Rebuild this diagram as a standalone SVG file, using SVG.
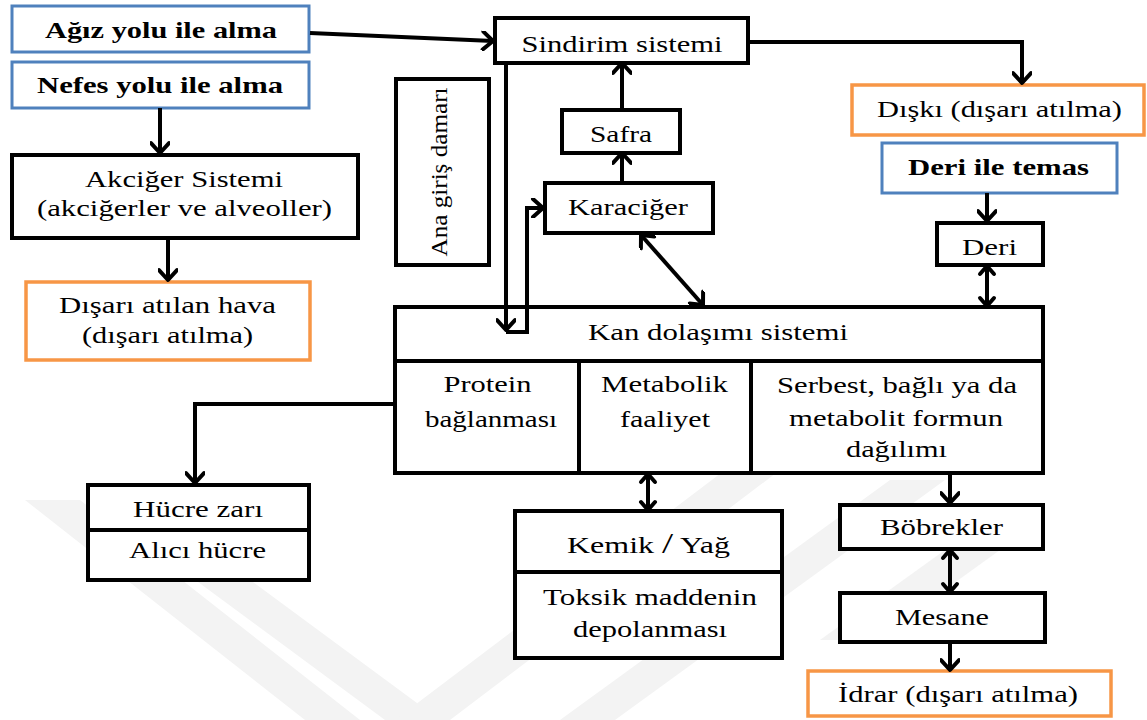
<svg xmlns="http://www.w3.org/2000/svg" width="1147" height="720" viewBox="0 0 1147 720" font-family="'Liberation Serif', 'DejaVu Serif', serif">
<style>
  text{font-family:'Liberation Serif','DejaVu Serif',serif}
  .t{font-size:24px;fill:#000;text-anchor:middle}
  .b{font-weight:bold}
  .box{fill:#fff;stroke:#000;stroke-width:4}
  .blue{fill:#fff;stroke:#4F81BD;stroke-width:3}
  .org{fill:#fff;stroke:#F79646;stroke-width:3.5}
  .div{stroke:#000;stroke-width:4;fill:none}
  .c{fill:none;stroke:#000;stroke-width:4}
  .wm{fill:#f3f3f3}
</style>
<defs>
  <marker id="ah" viewBox="0 0 20 20" refX="17" refY="10" markerWidth="20" markerHeight="20" markerUnits="userSpaceOnUse" orient="auto-start-reverse">
    <path d="M7,1 L17,10 L7,19" fill="none" stroke="#000" stroke-width="4" stroke-linecap="round" stroke-linejoin="round"/>
  </marker>
  <marker id="ahs" viewBox="0 0 20 20" refX="17" refY="10" markerWidth="20" markerHeight="20" markerUnits="userSpaceOnUse" orient="auto-start-reverse">
    <path d="M9,3 L17,10 L9,17" fill="none" stroke="#000" stroke-width="4" stroke-linecap="round" stroke-linejoin="round"/>
  </marker>
</defs>
<rect width="1147" height="720" fill="#fff"/>
<g id="watermark">
  <polygon class="wm" points="25,500 80,500 360,720 305,720"/>
  <polygon class="wm" points="175,565 230,565 440,720 385,720"/>
  <polygon class="wm" points="395,720 450,720 780,470 725,470"/>
  <polygon class="wm" points="560,720 615,720 945,480 890,480"/>
  <polygon class="wm" points="820,640 875,640 1000,550 945,550"/>
</g>
<g id="agiz">
  <rect class="blue" x="12" y="6" width="297" height="46"/>
  <text class="t b" x="161" y="38" textLength="232" lengthAdjust="spacingAndGlyphs">Ağız yolu ile alma</text>
</g>
<g id="nefes">
  <rect class="blue" x="12" y="62" width="297" height="46"/>
  <text class="t b" x="160" y="93" textLength="246" lengthAdjust="spacingAndGlyphs">Nefes yolu ile alma</text>
</g>
<g id="akciger">
  <rect class="box" x="12" y="155" width="346" height="83"/>
  <text class="t" x="184" y="187" textLength="198" lengthAdjust="spacingAndGlyphs">Akciğer Sistemi</text>
  <text class="t" x="184.5" y="216" textLength="295" lengthAdjust="spacingAndGlyphs">(akciğerler ve alveoller)</text>
</g>
<g id="disari-hava">
  <rect class="org" x="26" y="282" width="284" height="78"/>
  <text class="t" x="167.5" y="313" textLength="217" lengthAdjust="spacingAndGlyphs">Dışarı atılan hava</text>
  <text class="t" x="167.5" y="343" textLength="171" lengthAdjust="spacingAndGlyphs">(dışarı atılma)</text>
</g>
<g id="sindirim">
  <rect class="box" x="495" y="18" width="253" height="45"/>
  <text class="t" x="622" y="52" textLength="201" lengthAdjust="spacingAndGlyphs">Sindirim sistemi</text>
</g>
<g id="ana-giris">
  <rect class="box" x="396" y="79" width="93" height="186"/>
  <text class="t" transform="translate(447,172) rotate(-90)" x="0" y="0" textLength="169" lengthAdjust="spacingAndGlyphs">Ana giriş damarı</text>
</g>
<g id="safra">
  <rect class="box" x="562" y="110" width="118" height="43"/>
  <text class="t" x="621" y="142" textLength="62" lengthAdjust="spacingAndGlyphs">Safra</text>
</g>
<g id="karaciger">
  <rect class="box" x="545" y="183" width="168" height="50"/>
  <text class="t" x="628" y="215" textLength="120" lengthAdjust="spacingAndGlyphs">Karaciğer</text>
</g>
<g id="diski">
  <rect class="org" x="852" y="85" width="292" height="50"/>
  <text class="t" x="999.5" y="117" textLength="245" lengthAdjust="spacingAndGlyphs">Dışkı (dışarı atılma)</text>
</g>
<g id="deri-temas">
  <rect class="blue" x="882" y="143" width="235" height="50"/>
  <text class="t b" x="998.5" y="175" textLength="181" lengthAdjust="spacingAndGlyphs">Deri ile temas</text>
</g>
<g id="deri">
  <rect class="box" x="937" y="223" width="106" height="42"/>
  <text class="t" x="989.5" y="255" textLength="55" lengthAdjust="spacingAndGlyphs">Deri</text>
</g>
<g id="kan">
  <rect class="box" x="395" y="307" width="648" height="166"/>
  <path class="div" d="M395,361 H1043 M579,361 V473 M751,361 V473"/>
  <text class="t" x="718" y="340" textLength="260" lengthAdjust="spacingAndGlyphs">Kan dolaşımı sistemi</text>
  <text class="t" x="487.5" y="392" textLength="88" lengthAdjust="spacingAndGlyphs">Protein</text>
  <text class="t" x="491" y="427" textLength="132" lengthAdjust="spacingAndGlyphs">bağlanması</text>
  <text class="t" x="664.5" y="392" textLength="127" lengthAdjust="spacingAndGlyphs">Metabolik</text>
  <text class="t" x="665" y="427" textLength="90" lengthAdjust="spacingAndGlyphs">faaliyet</text>
  <text class="t" x="897" y="393" textLength="240" lengthAdjust="spacingAndGlyphs">Serbest, bağlı ya da</text>
  <text class="t" x="896" y="426" textLength="214" lengthAdjust="spacingAndGlyphs">metabolit formun</text>
  <text class="t" x="896.5" y="457" textLength="101" lengthAdjust="spacingAndGlyphs">dağılımı</text>
</g>
<g id="hucre">
  <rect class="box" x="88" y="485" width="221" height="95"/>
  <path class="div" d="M88,530 H309"/>
  <text class="t" x="198" y="517" textLength="130" lengthAdjust="spacingAndGlyphs">Hücre zarı</text>
  <text class="t" x="197.5" y="558" textLength="137" lengthAdjust="spacingAndGlyphs">Alıcı hücre</text>
</g>
<g id="kemik">
  <rect class="box" x="515" y="511" width="267" height="147"/>
  <path class="div" d="M515,572 H782"/>
  <text class="t" x="648.5" y="553" textLength="163" lengthAdjust="spacingAndGlyphs">Kemik <tspan font-size="30">/</tspan> Yağ</text>
  <text class="t" x="650" y="605" textLength="214" lengthAdjust="spacingAndGlyphs">Toksik maddenin</text>
  <text class="t" x="650" y="637" textLength="154" lengthAdjust="spacingAndGlyphs">depolanması</text>
</g>
<g id="bobrekler">
  <rect class="box" x="840" y="505" width="203" height="44"/>
  <text class="t" x="941.5" y="535" textLength="123" lengthAdjust="spacingAndGlyphs">Böbrekler</text>
</g>
<g id="mesane">
  <rect class="box" x="840" y="593" width="205" height="49"/>
  <text class="t" x="942" y="625" textLength="94" lengthAdjust="spacingAndGlyphs">Mesane</text>
</g>
<g id="idrar">
  <rect class="org" x="808" y="671" width="303" height="45"/>
  <text class="t" x="958" y="702" textLength="240" lengthAdjust="spacingAndGlyphs">İdrar (dışarı atılma)</text>
</g>
<g id="connectors">
  <path class="c" d="M310,33 L493,41" marker-end="url(#ah)"/>
  <path class="c" d="M748,42 H1022 V83" marker-end="url(#ah)"/>
  <path class="c" d="M160,108 V153" marker-end="url(#ah)"/>
  <path class="c" d="M168,238 V280" marker-end="url(#ah)"/>
  <path class="c" d="M506,63 V330" marker-end="url(#ah)"/>
  <path class="c" d="M506,332 H527 V208 H543" marker-end="url(#ah)"/>
  <path class="c" d="M622,183 V153" marker-end="url(#ah)"/>
  <path class="c" d="M622,110 V63" marker-end="url(#ah)"/>
  <path class="c" d="M641,235 L703,305" marker-start="url(#ah)" marker-end="url(#ah)"/>
  <path class="c" d="M987,193 V221" marker-end="url(#ah)"/>
  <path class="c" d="M987,266 V306" marker-start="url(#ahs)" marker-end="url(#ahs)"/>
  <path class="c" d="M395,404 H195 V483" marker-end="url(#ah)"/>
  <path class="c" d="M648,474 V510" marker-start="url(#ahs)" marker-end="url(#ahs)"/>
  <path class="c" d="M950,474 V503" marker-end="url(#ah)"/>
  <path class="c" d="M950,550 V592" marker-start="url(#ahs)" marker-end="url(#ahs)"/>
  <path class="c" d="M950,643 V670" marker-end="url(#ah)"/>
</g>
</svg>
